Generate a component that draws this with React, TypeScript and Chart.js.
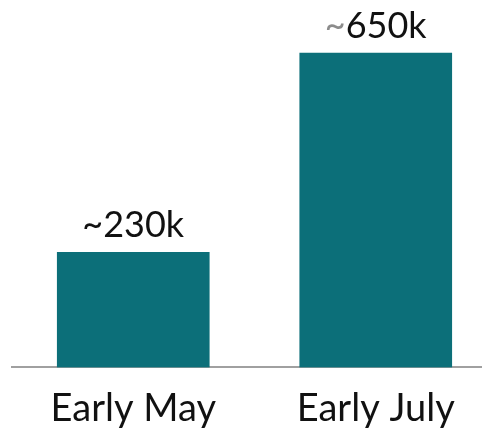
import React, { useEffect, useRef } from "react";
import { Chart, registerables } from "chart.js";

Chart.register(...registerables);

const categories = ["Early May", "Early July"];
const values = [238, 650];
const valueLabels = ["~230k", "~650k"];
const tildeColors = ["#111111", "#8c8c8c"];

const BAR_COLOR = "#0c6f79";
const TEXT_COLOR = "#111111";
const FONT = "Lato, 'Open Sans', sans-serif";

const valueLabelPlugin = {
  id: "valueLabels",
  afterDatasetsDraw(chart: any) {
    const ctx = chart.ctx;
    const meta = chart.getDatasetMeta(0);
    ctx.save();
    ctx.font = `36px ${FONT}`;
    ctx.textBaseline = "alphabetic";
    ctx.textAlign = "left";
    meta.data.forEach((bar: any, i: number) => {
      const label = valueLabels[i];
      const total = ctx.measureText(label).width;
      const tilde = label.slice(0, 1);
      const rest = label.slice(1);
      const tw = ctx.measureText(tilde).width;
      const x0 = bar.x - total / 2;
      const y = bar.y - 15;
      ctx.fillStyle = tildeColors[i];
      ctx.fillText(tilde, x0, y);
      ctx.fillStyle = TEXT_COLOR;
      ctx.fillText(rest, x0 + tw, y);
    });
    ctx.restore();
  },
};

export default function App() {
  const ref = useRef<HTMLCanvasElement | null>(null);
  useEffect(() => {
    if (!ref.current) return;
    const chart = new Chart(ref.current, {
      type: "bar",
      data: {
        labels: categories,
        datasets: [
          {
            data: values,
            backgroundColor: BAR_COLOR,
            borderWidth: 0,
            barThickness: 152,
          },
        ],
      },
      options: {
        responsive: false,
        animation: false,
        layout: { padding: { top: 29, left: 12, right: 0, bottom: 0 } },
        plugins: {
          legend: { display: false },
          tooltip: { enabled: false },
        },
        scales: {
          x: {
            grid: { display: false, drawTicks: false },
            border: { display: true, color: "#a0a0a0", width: 2 },
            ticks: {
              color: TEXT_COLOR,
              font: { family: FONT, size: 38 },
              padding: 19,
            },
          },
          y: {
            display: false,
            min: 0,
            max: 700,
          },
        },
      },
      plugins: [valueLabelPlugin],
    });
    return () => chart.destroy();
  }, []);
  return (
    <div style={{ position: "fixed", left: 0, top: 0, width: 497, height: 451 }}>
      <canvas ref={ref} width={497} height={451} style={{ width: 497, height: 451 }} />
    </div>
  );
}
